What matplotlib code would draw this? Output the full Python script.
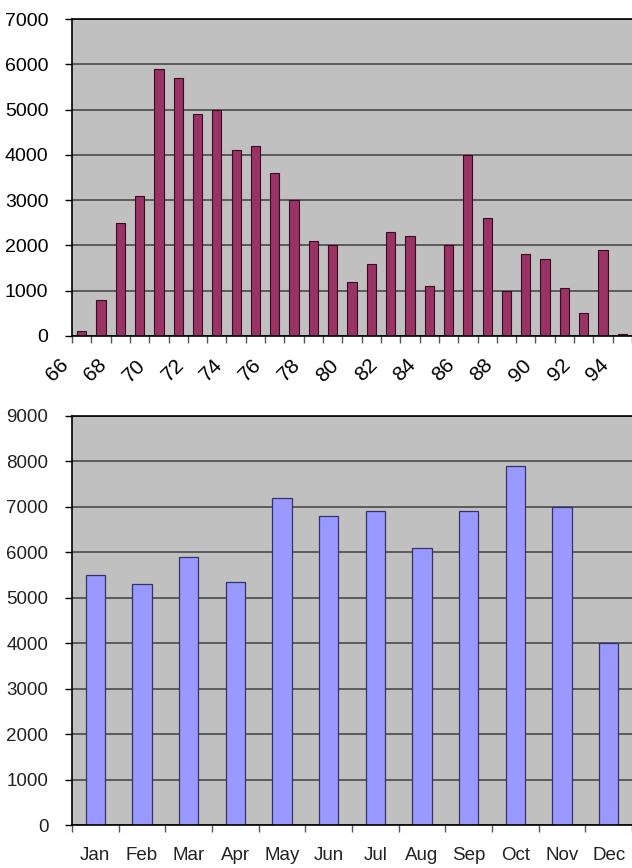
import matplotlib
matplotlib.use("Agg")
import matplotlib.pyplot as plt
import numpy as np

plt.rcParams['font.family'] = ['Liberation Sans', 'DejaVu Sans']

# ----- data -----
years = list(range(66, 95))
year_counts = [100, 800, 2500, 3100, 5900, 5700, 4900, 5000, 4100, 4200,
               3600, 3000, 2100, 2000, 1200, 1600, 2300, 2200, 1100, 2000,
               4000, 2600, 1000, 1800, 1700, 1050, 500, 1900, 50]
year_labels = [str(y) for y in range(66, 95, 2)]

months = ["Jan", "Feb", "Mar", "Apr", "May", "Jun",
          "Jul", "Aug", "Sep", "Oct", "Nov", "Dec"]
month_counts = [5500, 5300, 5900, 5350, 7200, 6800, 6900, 6100, 6900, 7900, 7000, 4000]

bg = "#c0c0c0"
grid_col = "#4a4a4a"

fig = plt.figure(figsize=(6.32, 8.68), dpi=100)


def style_axes(ax, ymax, step, label_col, size):
    ax.set_facecolor(bg)
    ax.set_ylim(0, ymax)
    ax.set_yticks(np.arange(0, ymax + 1, step))
    ax.yaxis.grid(True, color=grid_col, linewidth=1.2)
    ax.set_axisbelow(True)
    for s in ["left", "bottom", "top"]:
        ax.spines[s].set_color("black")
        ax.spines[s].set_linewidth(1.2)
    ax.spines["right"].set_visible(False)
    ax.tick_params(axis="y", length=5, width=1, pad=12, labelsize=size, labelcolor=label_col)
    ax.tick_params(axis="x", which="both", length=5, width=1, color="#555555")


# ----- top chart: by year -----
ax1 = fig.add_axes([72 / 632, 1 - 336 / 868, 560 / 632, 317 / 868])
x1 = np.arange(len(years))
ax1.bar(x1, year_counts, width=0.48, color="#993366", edgecolor="#3a0a20", linewidth=0.8)
ax1.set_xlim(-0.5, len(years) - 0.5)
style_axes(ax1, 7000, 1000, "black", 14)
# ticks at every category boundary, labels every other boundary
ax1.set_xticks(np.arange(-0.5, len(years), 1.0), minor=True)
ax1.set_xticks(np.arange(-0.5, len(years), 2.0))
ax1.set_xticklabels(year_labels, rotation=45, ha="right", fontsize=15)
ax1.tick_params(axis="x", which="major", pad=9)

# ----- bottom chart: by month -----
ax2 = fig.add_axes([72 / 632, 1 - 825 / 868, 560 / 632, 409 / 868])
x2 = np.arange(len(months))
ax2.bar(x2, month_counts, width=0.41, color="#9999ff", edgecolor="#333366", linewidth=0.9)
ax2.set_xlim(-0.5, len(months) - 0.5)
style_axes(ax2, 9000, 1000, "#222222", 13.5)
ax2.set_xticks(np.arange(-0.5, len(months), 1.0), minor=True)
ax2.set_xticks(x2)
ax2.set_xticklabels(months, fontsize=13.5, color="#222222")
ax2.tick_params(axis="x", which="major", length=0, pad=16)

fig.savefig("out.png", dpi=100)
